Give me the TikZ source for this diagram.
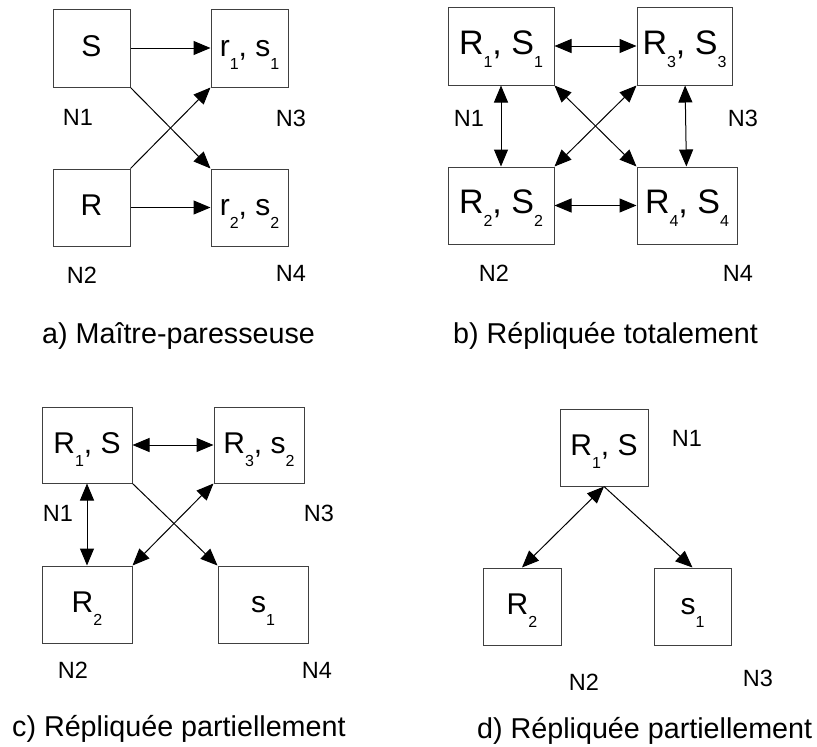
\documentclass[tikz,border=0pt]{standalone}
\usepackage{fontspec}
\setmainfont{Liberation Sans}
\usetikzlibrary{arrows.meta}
\newcommand{\ix}[1]{\raisebox{-13pt}{\fontsize{16}{16}\selectfont #1}}

\begin{document}
\begin{tikzpicture}[x=1pt,y=-1pt,
  nodebox/.style={draw=black!75,line width=1pt,inner sep=0pt,minimum height=78pt,
    text height=22pt,text depth=6pt,font=\fontsize{30}{34}\selectfont},
  bigbox/.style={nodebox,font=\fontsize{34}{40}\selectfont},
  site/.style={font=\fontsize{23.5}{28}\selectfont},
  caption/.style={anchor=base west,inner sep=0pt,font=\fontsize{28.7}{34}\selectfont},
  link/.style={line width=1pt,-{Triangle[length=17pt,width=14pt]}},
  dlink/.style={line width=1pt,{Triangle[length=17pt,width=14pt]}-{Triangle[length=17pt,width=14pt]}}]
  \useasboundingbox (0,0) rectangle (817,747);

  % a) master at N1/N2, lazy copies at N3/N4
  \node[nodebox,minimum width=77pt] (a1) at (91.5,48) {S};
  \node[nodebox,minimum width=77pt] (a3) at (249.5,48) {r\ix1, s\ix1};
  \node[nodebox,minimum width=77pt,minimum height=77pt] (a2) at (91.5,207.5) {R};
  \node[nodebox,minimum width=77pt,minimum height=77pt] (a4) at (249.5,207.5) {r\ix2, s\ix2};
  \draw[link] (a1) -- (a3);
  \draw[link] (a1.south east) -- (a4.north west);
  \draw[link] (a2.north east) -- (a3.south west);
  \draw[link] (a2) -- (a4);
  \node[site] (la1) at (78,117) {N1};
  \node[site] (la3) at (291,118) {N3};
  \node[site] (la2) at (82,275) {N2};
  \node[site] (la4) at (291,273) {N4};
  \node[caption] (capa) at (42,343) {a) Maître-paresseuse};

  % b) every site holds a full copy
  \node[bigbox,minimum width=106pt] (b1) at (501,46) {R\ix1, S\ix1};
  \node[bigbox,minimum width=95pt] (b3) at (684.5,46) {R\ix3, S\ix3};
  \node[bigbox,minimum width=106pt,minimum height=77pt] (b2) at (501,205.5) {R\ix2, S\ix2};
  \node[bigbox,minimum width=100pt,minimum height=77pt] (b4) at (687,205.5) {R\ix4, S\ix4};
  \draw[dlink] (b1) -- (b3);
  \draw[dlink] (b1) -- (b2);
  \draw[dlink] (b3) -- (b4);
  \draw[dlink] (b2) -- (b4);
  \draw[dlink] (b1.south east) -- (b4.north west);
  \draw[dlink] (b3.south west) -- (b2.north east);
  \node[site] (lb1) at (469,118) {N1};
  \node[site] (lb3) at (743,118) {N3};
  \node[site] (lb2) at (494,273) {N2};
  \node[site] (lb4) at (738,273) {N4};
  \node[caption] (capb) at (453,343) {b) Répliquée totalement};

  % c) partial copies on four sites
  \node[nodebox,minimum width=90pt,minimum height=76pt] (c1) at (87,445) {R\ix1, S};
  \node[nodebox,minimum width=90pt,minimum height=76pt] (c3) at (259,445) {R\ix3, s\ix2};
  \node[nodebox,minimum width=90pt,minimum height=77pt] (c2) at (87,604.5) {R\ix2};
  \node[nodebox,minimum width=90pt,minimum height=77pt] (c4) at (263,604.5) {s\ix1};
  \draw[dlink] (c1) -- (c3);
  \draw[dlink] (c1) -- (c2);
  \draw[link] (c1.south east) -- (c4.north west);
  \draw[dlink] (c3.south west) -- (c2.north east);
  \node[site] (lc1) at (58,513) {N1};
  \node[site] (lc3) at (319,513) {N3};
  \node[site] (lc2) at (73,670) {N2};
  \node[site] (lc4) at (317,670) {N4};
  \node[caption] (capc) at (12,736) {c) Répliquée partiellement};

  % d) partial copies on three sites
  \node[nodebox,minimum width=88pt,minimum height=77pt] (d1) at (604,447.5) {R\ix1, S};
  \node[nodebox,minimum width=78pt,minimum height=77pt] (d2) at (522,606.5) {R\ix2};
  \node[nodebox,minimum width=77pt,minimum height=77pt] (d3) at (692.5,606.5) {s\ix1};
  \draw[dlink] (d1.south) -- (d2.north);
  \draw[link] (d1.south) -- (d3.north);
  \node[site] (ld1) at (687,438) {N1};
  \node[site] (ld2) at (584,682) {N2};
  \node[site] (ld3) at (758,678) {N3};
  \node[caption] (capd) at (477,738) {d) Répliquée partiellement};
\end{tikzpicture}
\end{document}
